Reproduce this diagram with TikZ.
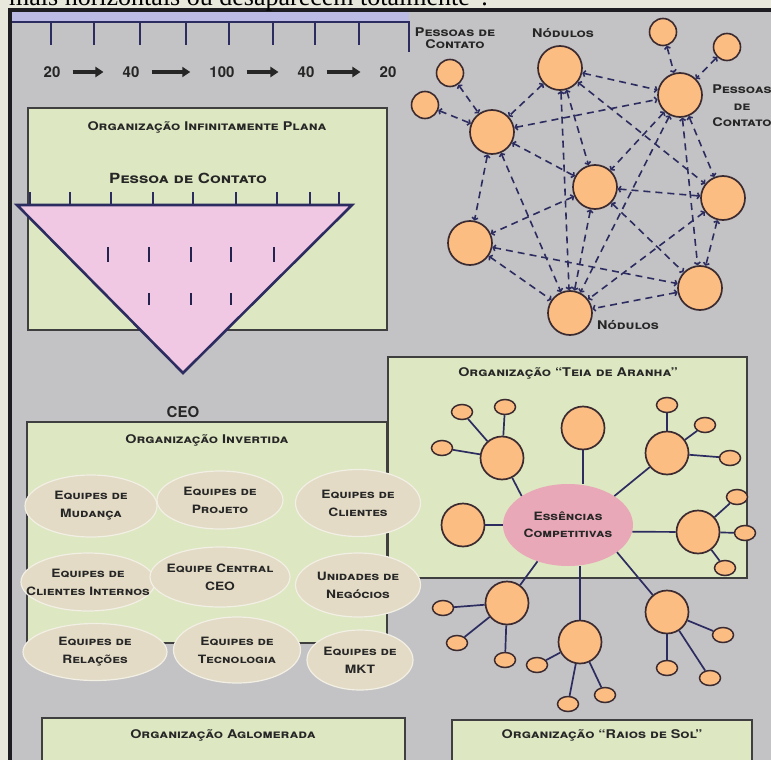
\documentclass[tikz,border=0pt]{standalone}
\usepackage{fontspec}
\setmainfont{Liberation Serif}
\setsansfont{TeX Gyre Heros}
\newfontfamily\capsface{TeX Gyre Heros}[FakeStretch=1.2]
\usetikzlibrary{arrows.meta,shapes.geometric}

\definecolor{pagebg}{HTML}{E8E8DC}
\definecolor{panelgray}{HTML}{C3C3C5}
\definecolor{framedark}{HTML}{1E1E22}
\definecolor{boxgreen}{HTML}{DDE7C1}
\definecolor{boxline}{HTML}{3F3F3F}
\definecolor{navy}{HTML}{2C2C60}
\definecolor{peach}{HTML}{FCBD82}
\definecolor{rim}{HTML}{3B2B30}
\definecolor{lilac}{HTML}{F0C8E4}
\definecolor{rose}{HTML}{E8A8B8}
\definecolor{sand}{HTML}{E3DBC5}
\definecolor{lavender}{HTML}{BBBBE6}
\definecolor{inkgray}{HTML}{262626}

\tikzset{
  caps/.style={font=\capsface\bfseries\scshape\fontsize{#1}{#1}\selectfont, text=inkgray, inner sep=0pt},
  greenbox/.style={draw=boxline, line width=1.8pt, fill=boxgreen},
  rulerline/.style={navy, line width=2.6pt},
  numlabel/.style={font=\sffamily\bfseries\fontsize{15}{15}\selectfont, text=inkgray, inner sep=0pt},
  numarrow/.style={line width=3.2pt, inkgray, -{Triangle[length=8pt,width=10pt]}, shorten <=12pt, shorten >=19pt},
  bignode/.style={circle, draw=rim, line width=1.7pt, fill=peach, minimum size=44pt, inner sep=0pt},
  smallnode/.style={circle, draw=rim, line width=1.6pt, fill=peach, minimum size=27pt, inner sep=0pt},
  hubnode/.style={circle, draw=rim, line width=1.7pt, fill=peach, minimum size=43pt, inner sep=0pt},
  leafnode/.style={ellipse, draw=rim, line width=1.5pt, fill=peach, minimum width=21pt, minimum height=15pt, inner sep=0pt},
  meshedge/.style={navy, line width=1.6pt, dash pattern=on 7pt off 5pt,
    arrows={Straight Barb[length=2pt,width=6pt]-Straight Barb[length=2pt,width=6pt]}},
  spokeline/.style={navy, line width=1.7pt},
  teamoval/.style={ellipse, fill=sand, draw=white!55!sand, line width=1.2pt, inner ysep=0pt, inner xsep=-18pt, align=center,
    font=\capsface\bfseries\scshape\fontsize{11.5}{18}\selectfont, text=inkgray},
  netlabel/.style={font=\capsface\bfseries\scshape\fontsize{12}{12}\selectfont, text=inkgray, align=center, inner sep=0pt},
  tickmark/.style={navy, line width=2pt},
  innertick/.style={navy!80!black, line width=2.4pt},
}

\begin{document}
\begin{tikzpicture}[x=1pt,y=-1pt]
\useasboundingbox (0,0) rectangle (771,760);
\clip (0,0) rectangle (771,760);

% page, grey panel and its frame
\fill[pagebg] (0,0) rectangle (771,760);
\fill[panelgray] (10,10) rectangle (771,760);
\draw[framedark, line width=4pt] (10,762) -- (10,10) -- (773,10);

% running text above the panel
\node[anchor=base west, font=\fontsize{26}{26}\selectfont, text=black, inner sep=0pt] (lead) at (9,5.5)
  {mais horizontais ou desaparecem totalmente”.};

% ruler with the span figures
\fill[lavender] (12,12) rectangle (409,22);
\draw[rulerline] (12,22) -- (409,22) -- (409,52);
\foreach \x in {51,94,140,186,229,273,315,359} \draw[rulerline] (\x,22) -- (\x,45);
\node[numlabel] (n1) at (52,72) {20};
\node[numlabel] (n2) at (131,72) {40};
\node[numlabel] (n3) at (222,72) {100};
\node[numlabel] (n4) at (306,72) {40};
\node[numlabel] (n5) at (388,72) {20};
\foreach \a/\b in {n1/n2,n2/n3,n3/n4,n4/n5} \draw[numarrow] (\a) -- (\b);

% infinitely flat organisation
\draw[greenbox] (28,108) rectangle (387,330);
\node[caps=12] (flatttl) at (207,127) {Organização Infinitamente Plana};
\node[caps=14] (contact) at (188,178) {Pessoa de Contato};
\draw[navy, line width=2.6pt, fill=lilac, line join=miter] (17,205) -- (352,205) -- (183,373) -- cycle;
\foreach \x in {30,70,111,153,193,236,277,310,339} \draw[tickmark] (\x,192) -- (\x,205);
\foreach \x in {108,149,191,231,274} \draw[innertick] (\x,247) -- (\x,262);
\foreach \x in {149,191,231} \draw[innertick] (\x,293) -- (\x,305);

% network of nodes and contact persons
\node[smallnode] (pa) at (450,73) {};
\node[smallnode] (pb) at (425,105) {};
\node[bignode]   (nc) at (560,68) {};
\node[smallnode] (pd) at (663,32) {};
\node[smallnode] (pe) at (727,47) {};
\node[bignode]   (nf) at (680,95) {};
\node[bignode]   (ng) at (492,132) {};
\node[bignode]   (nh) at (595,187) {};
\node[bignode]   (ni) at (723,198) {};
\node[bignode]   (nj) at (470,243) {};
\node[bignode]   (nk) at (700,288) {};
\node[bignode]   (nl) at (570,313) {};
\foreach \a/\b in {pa/ng,pb/ng,pd/nf,pe/nf,nc/ng,nc/nf,nc/ni,nc/nl,nc/nh,ng/nf,ng/nh,ng/nj,ng/nl,
                   nf/nh,nf/ni,nf/nk,nf/nl,nh/ni,nh/nj,nh/nk,nh/nl,nj/nl,nj/nk,ni/nk,ni/nl,nk/nl}
  \draw[meshedge] (\a) -- (\b);
\node[netlabel] (lblpl) at (455,38) {Pessoas de\\Contato};
\node[netlabel] (lblnt) at (563,33) {Nódulos};
\node[netlabel, font=\capsface\bfseries\scshape\fontsize{12}{16.5}\selectfont] (lblpr) at (742,106) {Pessoas\\de\\Contato};
\node[netlabel] (lblnb) at (628,325) {Nódulos};

% spider-web organisation
\draw[greenbox] (388,357) rectangle (747,578);
\node[caps=12] (webttl) at (568,373) {Organização “Teia de Aranha”};
\node[ellipse, fill=rose, minimum width=130pt, minimum height=82pt, inner sep=0pt, align=center,
      font=\capsface\bfseries\scshape\fontsize{11.5}{17}\selectfont, text=inkgray] (core) at (568,525)
  {Essências\\Competitivas};

\node[hubnode] (h1) at (502,458) {};
\node[hubnode] (h2) at (583,428) {};
\node[hubnode] (h3) at (667,453) {};
\node[hubnode] (h4) at (463,525) {};
\node[hubnode] (h5) at (698,532) {};
\node[hubnode] (h6) at (507,603) {};
\node[hubnode] (h7) at (580,642) {};
\node[hubnode] (h8) at (667,612) {};

\draw[spokeline] (h1) -- (core.148);
\draw[spokeline] (h2) -- (h2 |- core.north);
\draw[spokeline] (h3) -- (core.32);
\draw[spokeline] (h4) -- (core);
\draw[spokeline] (h5) -- (core.354);
\draw[spokeline] (h6) -- (core.230);
\draw[spokeline] (h7) -- (h7 |- core.south);
\draw[spokeline] (h8) -- (core.331);

\foreach \h/\n/\p in {h1/1a/{(462,412)}, h1/1b/{(505,407)}, h1/1c/{(442,448)},
                      h3/3a/{(667,405)}, h3/3b/{(705,425)}, h3/3c/{(730,458)},
                      h5/5a/{(737,497)}, h5/5b/{(745,533)}, h5/5c/{(725,568)},
                      h6/6a/{(443,608)}, h6/6b/{(457,643)}, h6/6c/{(505,660)},
                      h7/7a/{(537,665)}, h7/7b/{(568,704)}, h7/7c/{(605,695)},
                      h8/8a/{(723,635)}, h8/8b/{(667,668)}, h8/8c/{(710,678)}} {
  \node[leafnode] (leaf\n) at \p {};
  \draw[spokeline] (\h) -- (leaf\n);
}

% inverted organisation
\draw[greenbox] (27,422) rectangle (387,643);
\node[caps=12] (invttl) at (207,440) {Organização Invertida};
\node[teamoval, minimum width=132pt, minimum height=62pt] (t1) at (91,506) {Equipes de\\Mudança};
\node[teamoval, minimum width=126pt, minimum height=58pt] (t2) at (220,500) {Equipes de\\Projeto};
\node[teamoval, minimum width=125pt, minimum height=67pt] (t3) at (358,503) {Equipes de\\Clientes};
\node[teamoval, minimum width=134pt, minimum height=58pt] (t4) at (88,582) {Equipes de\\Clientes Internos};
\node[teamoval, minimum width=140pt, minimum height=60pt] (t5) at (220,577) {Equipe Central\\CEO};
\node[teamoval, minimum width=125pt, minimum height=64pt] (t6) at (358,585) {Unidades de\\Negócios};
\node[teamoval, minimum width=144pt, minimum height=57pt] (t7) at (95,652) {Equipes de\\Relações};
\node[teamoval, minimum width=127pt, minimum height=66pt] (t8) at (237,650) {Equipes de\\Tecnologia};
\node[teamoval, minimum width=106pt, minimum height=60pt] (t9) at (360,660) {Equipes de\\MKT};

\node[font=\sffamily\bfseries\fontsize{15}{15}\selectfont, text=inkgray, inner sep=0pt] (ceo) at (183,412) {CEO};

% agglomerated and sun-ray organisations
\draw[greenbox] (42,718) rectangle (405,775);
\node[caps=12] (aggttl) at (223,735) {Organização Aglomerada};
\draw[greenbox] (452,720) rectangle (752,775);
\node[caps=12] (sunttl) at (602,735) {Organização “Raios de Sol”};
\end{tikzpicture}
\end{document}
